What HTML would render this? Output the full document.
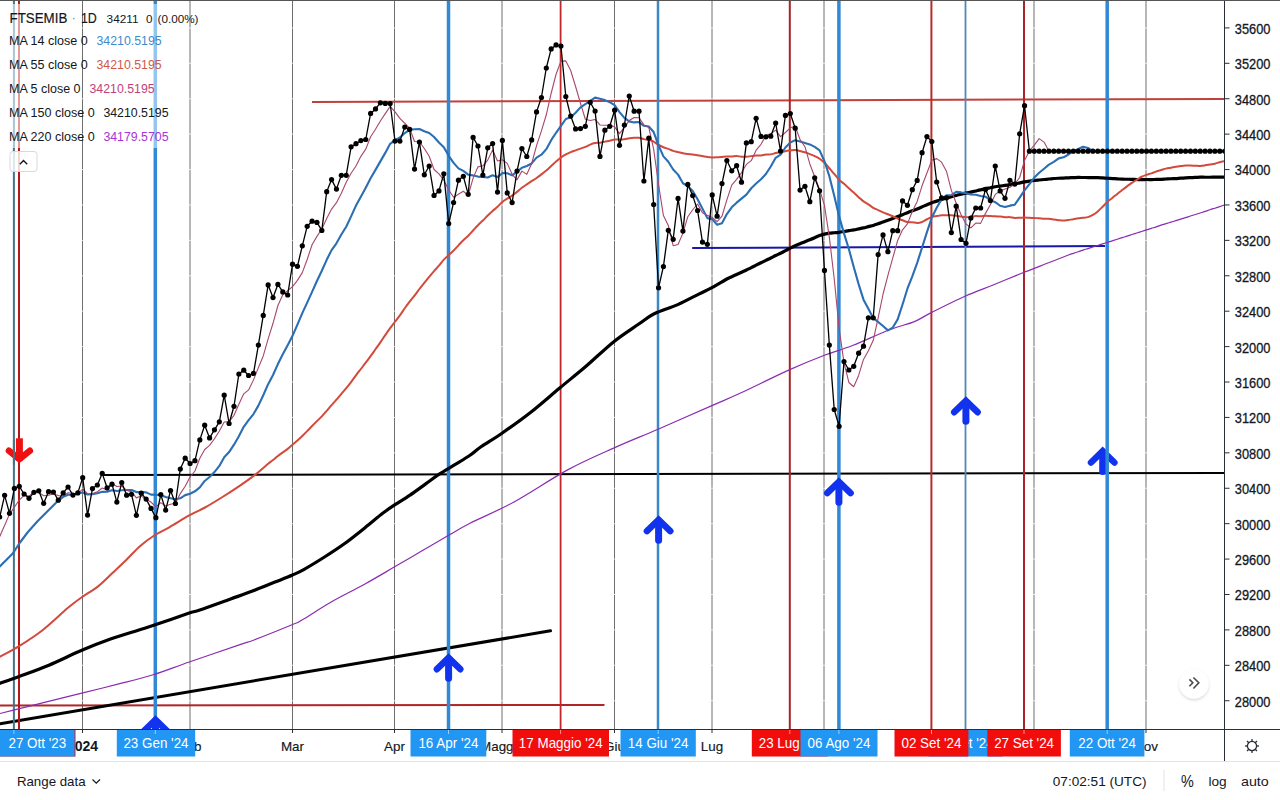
<!DOCTYPE html><html><head><meta charset="utf-8"><title>FTSEMIB chart</title><style>
html,body{margin:0;padding:0;background:#fff;width:1280px;height:800px;overflow:hidden;}
svg{display:block;font-family:"Liberation Sans", sans-serif;}
</style></head><body>
<svg width="1280" height="800" viewBox="0 0 1280 800">
<defs><clipPath id="pane"><rect x="0" y="0" width="1224" height="729"/></clipPath></defs>
<rect x="0" y="0" width="1280" height="800" fill="#fff"/>
<g clip-path="url(#pane)">
<line x1="82.5" y1="0" x2="82.5" y2="729" stroke="#6e6e6e" stroke-width="1"/>
<line x1="292.5" y1="0" x2="292.5" y2="729" stroke="#6e6e6e" stroke-width="1"/>
<line x1="394.5" y1="0" x2="394.5" y2="729" stroke="#6e6e6e" stroke-width="1"/>
<line x1="614.5" y1="0" x2="614.5" y2="729" stroke="#6e6e6e" stroke-width="1"/>
<line x1="190" y1="0" x2="190" y2="729" stroke="#6e6e6e" stroke-width="1"/>
<line x1="502" y1="0" x2="502" y2="729" stroke="#6e6e6e" stroke-width="1"/>
<line x1="712" y1="0" x2="712" y2="729" stroke="#6e6e6e" stroke-width="1"/>
<line x1="824" y1="0" x2="824" y2="729" stroke="#6e6e6e" stroke-width="1"/>
<line x1="1034" y1="0" x2="1034" y2="729" stroke="#6e6e6e" stroke-width="1"/>
<line x1="1146" y1="0" x2="1146" y2="729" stroke="#6e6e6e" stroke-width="1"/>
<line x1="0" y1="27.9" x2="1224" y2="27.9" stroke="#fff" stroke-opacity="0.75" stroke-width="1"/>
<line x1="0" y1="63.31" x2="1224" y2="63.31" stroke="#fff" stroke-opacity="0.75" stroke-width="1"/>
<line x1="0" y1="98.72" x2="1224" y2="98.72" stroke="#fff" stroke-opacity="0.75" stroke-width="1"/>
<line x1="0" y1="134.14" x2="1224" y2="134.14" stroke="#fff" stroke-opacity="0.75" stroke-width="1"/>
<line x1="0" y1="169.55" x2="1224" y2="169.55" stroke="#fff" stroke-opacity="0.75" stroke-width="1"/>
<line x1="0" y1="204.96" x2="1224" y2="204.96" stroke="#fff" stroke-opacity="0.75" stroke-width="1"/>
<line x1="0" y1="240.37" x2="1224" y2="240.37" stroke="#fff" stroke-opacity="0.75" stroke-width="1"/>
<line x1="0" y1="275.78" x2="1224" y2="275.78" stroke="#fff" stroke-opacity="0.75" stroke-width="1"/>
<line x1="0" y1="311.2" x2="1224" y2="311.2" stroke="#fff" stroke-opacity="0.75" stroke-width="1"/>
<line x1="0" y1="346.61" x2="1224" y2="346.61" stroke="#fff" stroke-opacity="0.75" stroke-width="1"/>
<line x1="0" y1="382.02" x2="1224" y2="382.02" stroke="#fff" stroke-opacity="0.75" stroke-width="1"/>
<line x1="0" y1="417.43" x2="1224" y2="417.43" stroke="#fff" stroke-opacity="0.75" stroke-width="1"/>
<line x1="0" y1="452.84" x2="1224" y2="452.84" stroke="#fff" stroke-opacity="0.75" stroke-width="1"/>
<line x1="0" y1="488.26" x2="1224" y2="488.26" stroke="#fff" stroke-opacity="0.75" stroke-width="1"/>
<line x1="0" y1="523.67" x2="1224" y2="523.67" stroke="#fff" stroke-opacity="0.75" stroke-width="1"/>
<line x1="0" y1="559.08" x2="1224" y2="559.08" stroke="#fff" stroke-opacity="0.75" stroke-width="1"/>
<line x1="0" y1="594.49" x2="1224" y2="594.49" stroke="#fff" stroke-opacity="0.75" stroke-width="1"/>
<line x1="0" y1="629.9" x2="1224" y2="629.9" stroke="#fff" stroke-opacity="0.75" stroke-width="1"/>
<line x1="0" y1="665.32" x2="1224" y2="665.32" stroke="#fff" stroke-opacity="0.75" stroke-width="1"/>
<line x1="0" y1="700.73" x2="1224" y2="700.73" stroke="#fff" stroke-opacity="0.75" stroke-width="1"/>
<line x1="312" y1="101.9" x2="1224" y2="98.9" stroke="#c0413b" stroke-width="2"/>
<line x1="102" y1="475.1" x2="1224" y2="472.9" stroke="#000" stroke-width="2"/>
<line x1="692.2" y1="248" x2="1105" y2="246" stroke="#1717a8" stroke-width="2"/>
<line x1="0" y1="705.6" x2="604.5" y2="704.9" stroke="#b02525" stroke-width="2"/>
<line x1="0" y1="723.7" x2="550.5" y2="630.8" stroke="#000" stroke-width="3" stroke-linecap="round"/>
<g stroke="#1133ee" fill="none" stroke-linecap="round" stroke-linejoin="miter"><polyline points="1091,462.5 1102.7,451.1 1114.4,462.5" stroke-width="6.5"/><line x1="1102.7" y1="452.6" x2="1102.7" y2="471.6" stroke-width="7"/></g>
<line x1="155.3" y1="148" x2="155.3" y2="729" stroke="#3189d6" stroke-width="3.5"/>
<line x1="448.5" y1="0" x2="448.5" y2="729" stroke="#3189d6" stroke-width="3.5"/>
<line x1="560.6" y1="0" x2="560.6" y2="729" stroke="#c0282c" stroke-width="1.8"/>
<line x1="658" y1="0" x2="658" y2="729" stroke="#3a88c8" stroke-width="2.5"/>
<line x1="789.8" y1="0" x2="789.8" y2="729" stroke="#a82428" stroke-width="2"/>
<line x1="838.9" y1="0" x2="838.9" y2="729" stroke="#3189d6" stroke-width="3.5"/>
<line x1="931.4" y1="0" x2="931.4" y2="729" stroke="#b82c2a" stroke-width="2"/>
<line x1="965.5" y1="0" x2="965.5" y2="729" stroke="#5089b8" stroke-width="1.8"/>
<line x1="1024" y1="0" x2="1024" y2="729" stroke="#a82428" stroke-width="2"/>
<line x1="1107.2" y1="0" x2="1107.2" y2="729" stroke="#3189d6" stroke-width="3.5"/>
<line x1="155.3" y1="0" x2="155.3" y2="4" stroke="#3189d6" stroke-width="3.5"/>
<line x1="155.3" y1="4" x2="155.3" y2="148" stroke="#93c5ef" stroke-width="3.5"/>
<line x1="13.9" y1="0" x2="13.9" y2="4" stroke="#427585" stroke-width="2"/>
<line x1="13.9" y1="4" x2="13.9" y2="148" stroke="#a9c6d2" stroke-width="2"/>
<line x1="13.9" y1="148" x2="13.9" y2="151" stroke="#427585" stroke-width="2"/>
<line x1="13.9" y1="151" x2="13.9" y2="172" stroke="#dce8ee" stroke-width="2"/>
<line x1="13.9" y1="172" x2="13.9" y2="729" stroke="#427585" stroke-width="2"/>
<line x1="19" y1="0" x2="19" y2="4" stroke="#b81616" stroke-width="2"/>
<line x1="19" y1="4" x2="19" y2="148" stroke="#e29a9a" stroke-width="2"/>
<line x1="19" y1="148" x2="19" y2="151" stroke="#b81616" stroke-width="2"/>
<line x1="19" y1="151" x2="19" y2="172" stroke="#f2d6d2" stroke-width="2"/>
<line x1="19" y1="172" x2="19" y2="729" stroke="#b81616" stroke-width="2"/>
<g stroke="#1133ee" fill="none" stroke-linecap="round" stroke-linejoin="miter"><polyline points="143.8,731.1 155.5,719.7 167.2,731.1" stroke-width="6.5"/><line x1="155.5" y1="721.2" x2="155.5" y2="740.2" stroke-width="7"/></g>
<g stroke="#1133ee" fill="none" stroke-linecap="round" stroke-linejoin="miter"><polyline points="436.9,669.2 448.6,657.8 460.3,669.2" stroke-width="6.5"/><line x1="448.6" y1="659.3" x2="448.6" y2="678.3" stroke-width="7"/></g>
<g stroke="#1133ee" fill="none" stroke-linecap="round" stroke-linejoin="miter"><polyline points="646.9,531.1 658.6,519.7 670.3,531.1" stroke-width="6.5"/><line x1="658.6" y1="521.2" x2="658.6" y2="540.2" stroke-width="7"/></g>
<g stroke="#1133ee" fill="none" stroke-linecap="round" stroke-linejoin="miter"><polyline points="827.2,493.1 838.9,481.7 850.6,493.1" stroke-width="6.5"/><line x1="838.9" y1="483.2" x2="838.9" y2="502.2" stroke-width="7"/></g>
<g stroke="#1133ee" fill="none" stroke-linecap="round" stroke-linejoin="miter"><polyline points="954.2,412.2 965.9,400.8 977.6,412.2" stroke-width="6.5"/><line x1="965.9" y1="402.3" x2="965.9" y2="421.3" stroke-width="7"/></g>
<g stroke="#f01010" fill="none" stroke-linecap="round" stroke-linejoin="miter"><polyline points="8.95,450.8 19.4,459.2 29.85,450.8" stroke-width="6.5"/><line x1="19.4" y1="457.3" x2="19.4" y2="441.8" stroke-width="7" stroke-linecap="square"/></g>
<line x1="13.9" y1="440" x2="13.9" y2="465" stroke="#427585" stroke-width="2"/>
<path d="M-2 714 C-1.67 713.92 -3.88 714.47 0 713.5 C3.88 712.53 14.22 709.97 21.3 708.2 C28.38 706.43 32.42 705.42 42.5 702.9 C52.58 700.38 69.4 696.18 81.8 693.1 C94.2 690.02 105.02 687.45 116.9 684.4 C128.78 681.35 141.05 678.53 153.1 674.8 C165.15 671.07 174.72 667.03 189.2 662 C203.68 656.97 229.2 648.27 240 644.6 C250.8 640.93 245.33 643.3 254 640 C262.67 636.7 284 628.13 292 624.8 C300 621.47 295.47 623.8 302 620 C308.53 616.2 320.7 608 331.2 602 C341.7 596 354.5 589.82 365 584 C375.5 578.18 384.83 572.55 394.2 567.1 C403.57 561.65 412.2 556.55 421.2 551.3 C430.2 546.05 440.07 540.28 448.2 535.6 C456.33 530.92 459.03 528.8 470 523.2 C480.97 517.6 497.73 510.88 514 502 C530.27 493.12 550.8 478.97 567.6 469.9 C584.4 460.83 599.72 454.38 614.8 447.6 C629.88 440.82 641.92 436.2 658.1 429.2 C674.28 422.2 698.25 411.58 711.9 405.6 C725.55 399.62 727.12 399.25 740 393.3 C752.88 387.35 775.13 376.23 789.2 369.9 C803.27 363.57 813.85 359.37 824.4 355.3 C834.95 351.23 841.73 349.72 852.5 345.5 C863.27 341.28 878.68 333.98 889 330 C899.32 326.02 907.37 324.5 914.4 321.6 C921.43 318.7 922.77 316.83 931.2 312.6 C939.63 308.37 954.68 300.8 965 296.2 C975.32 291.6 983.27 288.98 993.1 285 C1002.93 281.02 1014.63 276.05 1024 272.3 C1033.37 268.55 1041.89 265.39 1049.3 262.5 C1056.71 259.61 1064.45 256.5 1068.46 254.97 C1072.47 253.44 1071.71 253.85 1073.34 253.31 C1074.97 252.77 1076.59 252.28 1078.22 251.74 C1079.85 251.21 1081.47 250.63 1083.1 250.1 C1084.73 249.57 1086.35 249.08 1087.98 248.57 C1089.61 248.06 1091.23 247.56 1092.86 247.04 C1094.49 246.53 1096.11 246.01 1097.74 245.48 C1099.37 244.96 1100.99 244.43 1102.62 243.91 C1104.25 243.39 1105.87 242.87 1107.5 242.36 C1109.13 241.84 1110.75 241.34 1112.38 240.81 C1114.01 240.29 1115.63 239.74 1117.26 239.21 C1118.89 238.69 1120.51 238.18 1122.14 237.66 C1123.77 237.15 1125.39 236.64 1127.02 236.12 C1128.65 235.59 1130.27 235.05 1131.9 234.53 C1133.53 234.01 1135.15 233.49 1136.78 232.98 C1138.41 232.46 1140.03 231.96 1141.66 231.45 C1143.29 230.93 1144.91 230.41 1146.54 229.89 C1148.17 229.37 1149.79 228.84 1151.42 228.33 C1153.05 227.83 1154.67 227.37 1156.3 226.85 C1157.93 226.33 1159.55 225.73 1161.18 225.19 C1162.81 224.66 1164.43 224.17 1166.06 223.66 C1167.69 223.15 1169.31 222.64 1170.94 222.14 C1172.57 221.65 1174.19 221.18 1175.82 220.68 C1177.45 220.18 1179.07 219.66 1180.7 219.15 C1182.33 218.64 1183.95 218.15 1185.58 217.64 C1187.21 217.12 1188.83 216.56 1190.46 216.04 C1192.09 215.52 1193.71 215.05 1195.34 214.53 C1196.97 214.02 1198.59 213.49 1200.22 212.97 C1201.85 212.45 1203.47 211.95 1205.1 211.41 C1206.73 210.88 1208.35 210.29 1209.98 209.76 C1211.61 209.22 1213.23 208.72 1214.86 208.2 C1216.49 207.68 1218.11 207.16 1219.74 206.62 C1221.37 206.09 1223.81 205.27 1224.62 205" fill="none" stroke="#8a2cb0" stroke-width="1.2"/>
<path d="M-2 684 C-1.67 683.88 -3.52 684.55 0 683.3 C3.52 682.05 10.95 679.52 19.1 676.5 C27.25 673.48 38.45 669.57 48.9 665.2 C59.35 660.83 71.53 654.65 81.8 650.3 C92.07 645.95 101.1 642.45 110.5 639.1 C119.9 635.75 130.75 632.58 138.2 630.2 C145.65 627.82 146.7 627.65 155.2 624.8 C163.7 621.95 181.77 615.57 189.2 613.1 C196.63 610.63 193 612.32 199.8 610 C206.6 607.68 221.22 602.35 230 599.2 C238.78 596.05 245 593.95 252.5 591.1 C260 588.25 268.33 584.78 275 582.1 C281.67 579.42 287.63 577.13 292.5 575 C297.37 572.87 298.87 572.3 304.2 569.3 C309.53 566.3 317.75 561.3 324.5 557 C331.25 552.7 337.95 548.38 344.7 543.5 C351.45 538.62 358.62 532.77 365 527.7 C371.38 522.63 378.13 516.85 383 513.1 C387.87 509.35 389.7 508.2 394.2 505.2 C398.7 502.2 404.75 498.65 410 495.1 C415.25 491.55 420.83 487.38 425.7 483.9 C430.57 480.42 434.33 477.4 439.2 474.2 C444.07 471 449.77 467.85 454.9 464.7 C460.03 461.55 465.65 458.28 470 455.3 C474.35 452.32 475.67 450.48 481 446.8 C486.33 443.12 493.7 438.97 502 433.2 C510.3 427.43 521.18 419.73 530.8 412.2 C540.42 404.67 550.5 395.65 559.7 388 C568.9 380.35 577.03 373.98 586 366.3 C594.97 358.62 604.77 348.9 613.5 341.9 C622.23 334.9 631.62 328.98 638.4 324.3 C645.18 319.62 647.63 317.08 654.2 313.8 C660.77 310.52 670.37 307.88 677.8 304.6 C685.23 301.32 693.12 296.93 698.8 294.1 C704.48 291.27 707.22 290.12 711.9 287.6 C716.58 285.08 723.55 280.8 726.86 278.98 C730.17 277.16 730.11 277.43 731.74 276.68 C733.37 275.93 734.99 275.21 736.62 274.48 C738.25 273.74 739.87 273.02 741.5 272.27 C743.13 271.52 744.75 270.73 746.38 269.97 C748.01 269.2 749.63 268.47 751.26 267.67 C752.89 266.87 754.51 265.99 756.14 265.17 C757.77 264.35 759.39 263.55 761.02 262.75 C762.65 261.96 764.27 261.17 765.9 260.38 C767.53 259.59 769.15 258.84 770.78 258.02 C772.41 257.2 774.03 256.28 775.66 255.48 C777.29 254.68 778.91 254.01 780.54 253.21 C782.17 252.42 783.79 251.55 785.42 250.7 C787.05 249.85 788.67 248.96 790.3 248.12 C791.93 247.29 793.55 246.43 795.18 245.69 C796.81 244.96 798.43 244.39 800.06 243.71 C801.69 243.04 803.31 242.32 804.94 241.66 C806.57 240.99 808.19 240.37 809.82 239.71 C811.45 239.06 813.07 238.41 814.7 237.71 C816.33 237.02 817.95 236.16 819.58 235.55 C821.21 234.95 822.83 234.5 824.46 234.1 C826.09 233.7 827.71 233.39 829.34 233.17 C830.97 232.94 832.59 232.88 834.22 232.74 C835.85 232.6 837.47 232.53 839.1 232.33 C840.73 232.12 842.35 231.79 843.98 231.51 C845.61 231.23 847.23 230.91 848.86 230.63 C850.49 230.35 852.11 230.14 853.74 229.86 C855.37 229.57 856.99 229.23 858.62 228.91 C860.25 228.59 861.87 228.31 863.5 227.92 C865.13 227.54 866.75 227.02 868.38 226.61 C870.01 226.19 871.63 225.9 873.26 225.44 C874.89 224.97 876.51 224.38 878.14 223.81 C879.77 223.23 881.39 222.58 883.02 221.98 C884.65 221.38 886.27 220.8 887.9 220.21 C889.53 219.62 891.15 219.05 892.78 218.45 C894.41 217.85 896.03 217.22 897.66 216.59 C899.29 215.96 900.91 215.31 902.54 214.66 C904.17 214 905.79 213.31 907.42 212.67 C909.05 212.03 910.67 211.42 912.3 210.81 C913.93 210.19 915.55 209.61 917.18 208.95 C918.81 208.3 920.43 207.59 922.06 206.88 C923.69 206.18 925.31 205.41 926.94 204.72 C928.57 204.03 930.19 203.33 931.82 202.73 C933.45 202.13 935.07 201.65 936.7 201.11 C938.33 200.57 939.95 200.03 941.58 199.51 C943.21 198.99 944.83 198.43 946.46 197.96 C948.09 197.5 949.71 197.12 951.34 196.7 C952.97 196.28 954.59 195.86 956.22 195.44 C957.85 195.03 959.47 194.6 961.1 194.22 C962.73 193.83 964.35 193.48 965.98 193.13 C967.61 192.77 969.23 192.44 970.86 192.09 C972.49 191.74 974.11 191.37 975.74 191.01 C977.37 190.64 978.99 190.28 980.62 189.89 C982.25 189.5 983.87 189.03 985.5 188.66 C987.13 188.3 988.75 188.03 990.38 187.7 C992.01 187.37 993.63 186.98 995.26 186.71 C996.89 186.44 998.51 186.29 1000.14 186.08 C1001.77 185.86 1003.39 185.64 1005.02 185.42 C1006.65 185.19 1008.27 184.96 1009.9 184.72 C1011.53 184.49 1013.15 184.3 1014.78 184 C1016.41 183.71 1018.03 183.29 1019.66 182.93 C1021.29 182.57 1022.91 182.18 1024.54 181.87 C1026.17 181.57 1027.79 181.34 1029.42 181.11 C1031.05 180.87 1032.67 180.66 1034.3 180.48 C1035.93 180.29 1037.55 180.14 1039.18 179.97 C1040.81 179.81 1042.43 179.66 1044.06 179.51 C1045.69 179.35 1047.31 179.2 1048.94 179.03 C1050.57 178.87 1052.19 178.64 1053.82 178.51 C1055.45 178.37 1057.07 178.31 1058.7 178.24 C1060.33 178.16 1061.95 178.12 1063.58 178.05 C1065.21 177.97 1066.83 177.86 1068.46 177.79 C1070.09 177.72 1071.71 177.69 1073.34 177.63 C1074.97 177.58 1076.59 177.49 1078.22 177.47 C1079.85 177.45 1081.47 177.49 1083.1 177.5 C1084.73 177.51 1086.35 177.53 1087.98 177.55 C1089.61 177.57 1091.23 177.6 1092.86 177.62 C1094.49 177.65 1096.11 177.64 1097.74 177.7 C1099.37 177.75 1100.99 177.86 1102.62 177.95 C1104.25 178.04 1105.87 178.13 1107.5 178.23 C1109.13 178.33 1110.75 178.45 1112.38 178.56 C1114.01 178.66 1115.63 178.77 1117.26 178.88 C1118.89 178.98 1120.51 179.13 1122.14 179.19 C1123.77 179.26 1125.39 179.24 1127.02 179.26 C1128.65 179.28 1130.27 179.29 1131.9 179.33 C1133.53 179.37 1135.15 179.44 1136.78 179.49 C1138.41 179.54 1140.03 179.63 1141.66 179.63 C1143.29 179.64 1144.91 179.52 1146.54 179.51 C1148.17 179.5 1149.79 179.59 1151.42 179.58 C1153.05 179.56 1154.67 179.46 1156.3 179.42 C1157.93 179.38 1159.55 179.38 1161.18 179.32 C1162.81 179.25 1164.43 179.12 1166.06 179.02 C1167.69 178.93 1169.31 178.83 1170.94 178.76 C1172.57 178.69 1174.19 178.71 1175.82 178.61 C1177.45 178.5 1179.07 178.26 1180.7 178.13 C1182.33 177.99 1183.95 177.87 1185.58 177.78 C1187.21 177.7 1188.83 177.65 1190.46 177.59 C1192.09 177.53 1193.71 177.5 1195.34 177.42 C1196.97 177.35 1198.59 177.17 1200.22 177.14 C1201.85 177.1 1203.47 177.21 1205.1 177.23 C1206.73 177.25 1208.35 177.28 1209.98 177.26 C1211.61 177.24 1213.23 177.13 1214.86 177.1 C1216.49 177.08 1218.11 177.11 1219.74 177.13 C1221.37 177.14 1223.81 177.17 1224.62 177.18" fill="none" stroke="#000" stroke-width="3.2" stroke-linejoin="round"/>
<path d="M-2 657.5 C-1.67 657.37 -3.52 658.6 0 656.7 C3.52 654.8 12.02 650.52 19.1 646.1 C26.18 641.68 34.35 636.58 42.5 630.2 C50.65 623.82 61.45 613.3 68 607.8 C74.55 602.3 76.83 600.73 81.8 597.2 C86.77 593.67 92.65 590.67 97.8 586.6 C102.95 582.53 107.97 577.23 112.7 572.8 C117.43 568.37 121.62 564.47 126.2 560 C130.78 555.53 135.53 550.08 140.2 546 C144.87 541.92 149.23 538.7 154.2 535.5 C159.17 532.3 164.17 530.15 170 526.8 C175.83 523.45 183.37 518.62 189.2 515.4 C195.03 512.18 199.45 510.57 205 507.5 C210.55 504.43 216.67 500.65 222.5 497 C228.33 493.35 234.75 489.17 240 485.6 C245.25 482.03 250.12 478.55 254 475.6 C257.88 472.65 260.9 469.88 263.26 467.89 C265.62 465.9 266.51 464.97 268.14 463.67 C269.77 462.37 271.39 461.37 273.02 460.07 C274.65 458.78 276.27 457.2 277.9 455.91 C279.53 454.62 281.15 453.52 282.78 452.34 C284.41 451.16 286.03 450.14 287.66 448.86 C289.29 447.59 290.91 446.08 292.54 444.68 C294.17 443.28 295.79 441.92 297.42 440.47 C299.05 439.02 300.67 437.53 302.3 435.98 C303.93 434.44 305.55 432.83 307.18 431.17 C308.81 429.52 310.43 427.72 312.06 426.05 C313.69 424.37 315.31 422.76 316.94 421.15 C318.57 419.54 320.19 418.12 321.82 416.39 C323.45 414.67 325.07 412.67 326.7 410.78 C328.33 408.9 329.95 406.94 331.58 405.09 C333.21 403.24 334.83 401.54 336.46 399.67 C338.09 397.8 339.71 395.79 341.34 393.86 C342.97 391.92 344.59 390.05 346.22 388.08 C347.85 386.12 349.47 384.19 351.1 382.07 C352.73 379.94 354.35 377.49 355.98 375.31 C357.61 373.13 359.23 371.09 360.86 368.99 C362.49 366.88 364.11 364.84 365.74 362.7 C367.37 360.57 368.99 358.4 370.62 356.16 C372.25 353.92 373.87 351.57 375.5 349.27 C377.13 346.97 378.75 344.7 380.38 342.33 C382.01 339.97 383.63 337.44 385.26 335.09 C386.89 332.73 388.51 330.42 390.14 328.19 C391.77 325.97 393.39 323.9 395.02 321.76 C396.65 319.61 398.27 317.58 399.9 315.33 C401.53 313.09 403.15 310.56 404.78 308.28 C406.41 306 408.03 303.76 409.66 301.66 C411.29 299.56 412.91 297.77 414.54 295.66 C416.17 293.55 417.79 291.15 419.42 289 C421.05 286.85 422.67 284.8 424.3 282.77 C425.93 280.73 427.55 278.74 429.18 276.79 C430.81 274.84 432.43 272.93 434.06 271.07 C435.69 269.21 437.31 267.53 438.94 265.62 C440.57 263.71 442.19 261.37 443.82 259.63 C445.45 257.88 447.07 256.68 448.7 255.16 C450.33 253.64 451.95 252.15 453.58 250.51 C455.21 248.88 456.83 247.08 458.46 245.36 C460.09 243.64 461.71 241.8 463.34 240.19 C464.97 238.59 466.59 237.34 468.22 235.73 C469.85 234.11 471.47 232.25 473.1 230.49 C474.73 228.74 476.35 226.84 477.98 225.19 C479.61 223.53 481.23 222.16 482.86 220.56 C484.49 218.95 486.11 217.17 487.74 215.57 C489.37 213.98 490.99 212.46 492.62 211 C494.25 209.54 495.87 208.3 497.5 206.79 C499.13 205.29 500.75 203.31 502.38 201.96 C504.01 200.6 505.63 199.72 507.26 198.67 C508.89 197.61 510.51 196.75 512.14 195.62 C513.77 194.49 515.39 193.2 517.02 191.9 C518.65 190.6 520.27 189.07 521.9 187.81 C523.53 186.56 525.15 185.49 526.78 184.39 C528.41 183.28 530.03 182.25 531.66 181.19 C533.29 180.14 534.91 179.18 536.54 178.05 C538.17 176.92 539.79 175.67 541.42 174.41 C543.05 173.15 544.67 171.87 546.3 170.48 C547.93 169.08 549.55 167.55 551.18 166.06 C552.81 164.56 554.43 162.93 556.06 161.51 C557.69 160.09 559.31 158.72 560.94 157.55 C562.57 156.37 564.19 155.37 565.82 154.46 C567.45 153.55 569.07 152.79 570.7 152.1 C572.33 151.41 573.95 150.9 575.58 150.33 C577.21 149.75 578.83 149.22 580.46 148.65 C582.09 148.07 583.71 147.58 585.34 146.9 C586.97 146.22 588.59 145.2 590.22 144.57 C591.85 143.94 593.47 143.42 595.1 143.1 C596.73 142.79 598.35 142.93 599.98 142.68 C601.61 142.43 603.23 141.94 604.86 141.61 C606.49 141.28 608.11 141.07 609.74 140.72 C611.37 140.37 612.99 139.74 614.62 139.54 C616.25 139.33 617.87 139.57 619.5 139.51 C621.13 139.45 622.75 139.36 624.38 139.17 C626.01 138.98 627.63 138.58 629.26 138.36 C630.89 138.14 632.51 137.94 634.14 137.84 C635.77 137.75 637.39 137.59 639.02 137.8 C640.65 138.02 642.27 138.79 643.9 139.11 C645.53 139.44 647.15 139.34 648.78 139.76 C650.41 140.17 652.03 140.73 653.66 141.59 C655.29 142.46 656.91 144.01 658.54 144.95 C660.17 145.88 661.79 146.58 663.42 147.23 C665.05 147.88 666.67 148.24 668.3 148.85 C669.93 149.46 671.55 150.34 673.18 150.89 C674.81 151.44 676.43 151.74 678.06 152.14 C679.69 152.54 681.31 152.95 682.94 153.27 C684.57 153.59 686.19 153.85 687.82 154.04 C689.45 154.23 691.07 154.22 692.7 154.42 C694.33 154.61 695.95 154.95 697.58 155.23 C699.21 155.5 700.83 155.77 702.46 156.07 C704.09 156.38 705.71 156.82 707.34 157.05 C708.97 157.27 710.59 157.39 712.22 157.43 C713.85 157.47 715.47 157.37 717.1 157.29 C718.73 157.21 720.35 157.07 721.98 156.95 C723.61 156.83 725.23 156.67 726.86 156.59 C728.49 156.52 730.11 156.6 731.74 156.49 C733.37 156.39 734.99 155.92 736.62 155.97 C738.25 156.02 739.87 156.66 741.5 156.79 C743.13 156.91 744.75 156.84 746.38 156.73 C748.01 156.62 749.63 156.31 751.26 156.12 C752.89 155.93 754.51 155.7 756.14 155.59 C757.77 155.48 759.39 155.65 761.02 155.46 C762.65 155.27 764.27 154.63 765.9 154.45 C767.53 154.27 769.15 154.6 770.78 154.37 C772.41 154.15 774.03 153.47 775.66 153.1 C777.29 152.74 778.91 152.49 780.54 152.17 C782.17 151.84 783.79 151.43 785.42 151.15 C787.05 150.88 788.67 150.71 790.3 150.52 C791.93 150.32 793.55 149.94 795.18 150 C796.81 150.07 798.43 150.54 800.06 150.91 C801.69 151.29 803.31 151.73 804.94 152.27 C806.57 152.81 808.19 153.51 809.82 154.16 C811.45 154.81 813.07 155.4 814.7 156.16 C816.33 156.92 817.95 157.62 819.58 158.74 C821.21 159.85 822.83 161.25 824.46 162.84 C826.09 164.43 827.71 166.42 829.34 168.27 C830.97 170.13 832.59 172.08 834.22 173.97 C835.85 175.85 837.47 177.96 839.1 179.61 C840.73 181.25 842.35 182.4 843.98 183.83 C845.61 185.27 847.23 186.76 848.86 188.22 C850.49 189.68 852.11 191.1 853.74 192.59 C855.37 194.07 856.99 195.68 858.62 197.15 C860.25 198.62 861.87 200.22 863.5 201.42 C865.13 202.63 866.75 203.3 868.38 204.36 C870.01 205.42 871.63 206.81 873.26 207.77 C874.89 208.73 876.51 209.34 878.14 210.1 C879.77 210.87 881.39 211.67 883.02 212.37 C884.65 213.07 886.27 213.66 887.9 214.3 C889.53 214.95 891.15 215.5 892.78 216.23 C894.41 216.95 896.03 217.99 897.66 218.67 C899.29 219.35 900.91 219.75 902.54 220.31 C904.17 220.86 905.79 221.7 907.42 222.02 C909.05 222.33 910.67 222.02 912.3 222.17 C913.93 222.33 915.55 222.97 917.18 222.94 C918.81 222.91 920.43 222.62 922.06 222 C923.69 221.39 925.31 220.09 926.94 219.25 C928.57 218.42 930.19 217.51 931.82 216.98 C933.45 216.45 935.07 216.37 936.7 216.1 C938.33 215.83 939.95 215.48 941.58 215.35 C943.21 215.22 944.83 215.34 946.46 215.34 C948.09 215.34 949.71 215.29 951.34 215.37 C952.97 215.44 954.59 215.56 956.22 215.76 C957.85 215.96 959.47 216.33 961.1 216.56 C962.73 216.79 964.35 217.13 965.98 217.16 C967.61 217.18 969.23 216.9 970.86 216.72 C972.49 216.54 974.11 216.13 975.74 216.06 C977.37 215.99 978.99 216.34 980.62 216.3 C982.25 216.26 983.87 215.84 985.5 215.81 C987.13 215.78 988.75 216.05 990.38 216.12 C992.01 216.19 993.63 216.14 995.26 216.22 C996.89 216.3 998.51 216.43 1000.14 216.59 C1001.77 216.75 1003.39 217.09 1005.02 217.18 C1006.65 217.27 1008.27 217.03 1009.9 217.15 C1011.53 217.26 1013.15 217.79 1014.78 217.89 C1016.41 218 1018.03 217.81 1019.66 217.75 C1021.29 217.69 1022.91 217.52 1024.54 217.52 C1026.17 217.53 1027.79 217.7 1029.42 217.79 C1031.05 217.88 1032.67 217.96 1034.3 218.05 C1035.93 218.14 1037.55 218.19 1039.18 218.33 C1040.81 218.46 1042.43 218.75 1044.06 218.84 C1045.69 218.92 1047.31 218.73 1048.94 218.84 C1050.57 218.95 1052.19 219.27 1053.82 219.49 C1055.45 219.71 1057.07 219.99 1058.7 220.18 C1060.33 220.36 1061.95 220.64 1063.58 220.59 C1065.21 220.55 1066.83 220.11 1068.46 219.89 C1070.09 219.66 1071.71 219.51 1073.34 219.25 C1074.97 218.99 1076.59 218.56 1078.22 218.33 C1079.85 218.1 1081.47 218.05 1083.1 217.85 C1084.73 217.65 1086.35 217.61 1087.98 217.13 C1089.61 216.65 1091.23 215.91 1092.86 214.96 C1094.49 214.01 1096.11 212.8 1097.74 211.43 C1099.37 210.06 1100.99 208.35 1102.62 206.74 C1104.25 205.12 1105.87 203.21 1107.5 201.74 C1109.13 200.27 1110.75 199.21 1112.38 197.91 C1114.01 196.61 1115.63 195.25 1117.26 193.93 C1118.89 192.62 1120.51 191.29 1122.14 190.02 C1123.77 188.76 1125.39 187.55 1127.02 186.35 C1128.65 185.15 1130.27 183.9 1131.9 182.81 C1133.53 181.71 1135.15 180.79 1136.78 179.78 C1138.41 178.77 1140.03 177.57 1141.66 176.75 C1143.29 175.93 1144.91 175.43 1146.54 174.87 C1148.17 174.3 1149.79 173.9 1151.42 173.35 C1153.05 172.79 1154.67 172.06 1156.3 171.52 C1157.93 170.97 1159.55 170.55 1161.18 170.07 C1162.81 169.59 1164.43 169.02 1166.06 168.63 C1167.69 168.24 1169.31 168.04 1170.94 167.72 C1172.57 167.41 1174.19 167.02 1175.82 166.74 C1177.45 166.46 1179.07 166.25 1180.7 166.04 C1182.33 165.83 1183.95 165.6 1185.58 165.51 C1187.21 165.42 1188.83 165.44 1190.46 165.48 C1192.09 165.52 1193.71 165.67 1195.34 165.75 C1196.97 165.82 1198.59 165.99 1200.22 165.92 C1201.85 165.86 1203.47 165.6 1205.1 165.36 C1206.73 165.13 1208.35 164.8 1209.98 164.51 C1211.61 164.23 1213.23 164.06 1214.86 163.67 C1216.49 163.28 1218.11 162.6 1219.74 162.19 C1221.37 161.77 1223.81 161.35 1224.62 161.19" fill="none" stroke="#d24a3c" stroke-width="2" stroke-linejoin="round"/>
<polyline points="-2,568.5 0,566.3 6.25,560 12.5,553.8 20,542.5 27.5,532.5 37.5,521.3 47.5,511.3 57.5,501.3 63.18,496.84 68.06,494.7 72.94,494.69 77.82,493.23 82.7,492.46 87.58,494.52 92.46,494.14 97.34,493.19 102.22,491.84 107.1,491.62 111.98,490.26 116.86,491 121.74,490.32 126.62,489.96 131.5,490.06 136.38,492.09 141.26,491.95 146.14,492.39 151.02,494.59 155.9,494.77 160.78,495.2 165.66,496.99 170.54,498.22 175.42,499.34 180.3,498.26 185.18,495.13 190.06,493.77 194.94,491.31 199.82,487.42 204.7,480.99 209.58,477.04 214.46,472.09 219.34,465.9 224.22,457.15 229.1,452.07 233.98,444.66 238.86,436.33 243.74,426.81 248.62,420.12 253.5,414.06 258.38,405.61 263.26,395.23 268.14,384.16 273.02,375.04 277.9,364.08 282.78,354.23 287.66,345.17 292.54,335.81 297.42,324.59 302.3,313.12 307.18,302.57 312.06,291.93 316.94,280.99 321.82,270.78 326.7,259.82 331.58,250.12 336.46,243.28 341.34,234.54 346.22,226.75 351.1,216.39 355.98,205.58 360.86,196.75 365.74,187.69 370.62,178.24 375.5,169.85 380.38,161.39 385.26,152.89 390.14,143.83 395.02,140.21 399.9,137.46 404.78,133.04 409.66,129.76 414.54,129.31 419.42,128.98 424.3,131.2 429.18,133.01 434.06,137.01 438.94,142.54 443.82,147.18 448.7,155.81 453.58,162.89 458.46,168.36 463.34,170.88 468.22,174.68 473.1,175.41 477.98,176.6 482.86,177.03 487.74,177.44 492.62,175.21 497.5,177.07 502.38,173.14 507.26,173.29 512.14,175.34 517.02,171.59 521.9,167.74 526.78,166.05 531.66,163.45 536.54,157.56 541.42,154.71 546.3,149.14 551.18,140.13 556.06,132.78 560.94,125.81 565.82,118.99 570.7,117.25 575.58,112.68 580.46,107.39 585.34,104.19 590.22,100.89 595.1,97.64 599.98,98.82 604.86,100.13 609.74,102.19 614.62,105.2 619.5,112.09 624.38,117.81 629.26,121.37 634.14,122.42 639.02,122.07 643.9,125.79 648.78,126.47 653.66,132.06 658.54,145.31 663.42,156.41 668.3,161.69 673.18,169.48 678.06,174.63 682.94,183.26 687.82,186.06 692.7,191.1 697.58,199.28 702.46,208.63 707.34,218.14 712.22,219.13 717.1,224.71 721.98,223.21 726.86,214.12 731.74,207.29 736.62,202.67 741.5,198.59 746.38,194.63 751.26,188.24 756.14,183.52 761.02,179.29 765.9,174.03 770.78,166.46 775.66,157.8 780.54,154.67 785.42,147.47 790.3,142.46 795.18,140.16 800.06,141.54 804.94,143.01 809.82,144.4 814.7,146.89 819.58,150.4 824.46,161.26 829.34,176.17 834.22,195.65 839.1,216.37 843.98,233.41 848.86,249.04 853.74,266.96 858.62,284.09 863.5,299.66 868.38,308.78 873.26,318.17 878.14,321.95 883.02,326.03 887.9,330.38 892.78,327.54 897.66,319.37 902.54,304.47 907.42,288.69 912.3,276.41 917.18,262.87 922.06,247.61 926.94,232.14 931.82,217.52 936.7,207.82 941.58,199.26 946.46,195.2 951.34,195.04 956.22,191.79 961.1,192.41 965.98,193.31 970.86,194.54 975.74,194.74 980.62,196.04 985.5,196.69 990.38,200.11 995.26,202.21 1000.14,205.74 1005.02,206.91 1009.9,205.65 1014.78,204.67 1019.66,197.61 1024.54,190.44 1029.42,184.13 1034.3,177.55 1039.18,172.77 1044.06,168.71 1048.94,164.66 1053.82,161.93 1058.7,158.4 1063.58,157.34 1068.46,154.5 1073.34,151.14 1078.22,149.06 1083.1,146.71 1087.98,147.95 1092.86,151.2 1097.74,151.2 1102.62,151.2 1107.5,151.2 1112.38,151.2 1117.26,151.2 1122.14,151.2 1127.02,151.2 1131.9,151.2 1136.78,151.2 1141.66,151.2 1146.54,151.2 1151.42,151.2 1156.3,151.2 1161.18,151.2 1166.06,151.2 1170.94,151.2 1175.82,151.2 1180.7,151.2 1185.58,151.2 1190.46,151.2 1195.34,151.2 1200.22,151.2 1205.1,151.2 1209.98,151.2 1214.86,151.2 1219.74,151.2 1224.62,151.2" fill="none" stroke="#2a6eb4" stroke-width="2.1" stroke-linejoin="round"/>
<polyline points="-2,540 0,536 9.4,514.4 19.26,500.06 24.14,495.46 29.02,496.06 33.9,491.86 38.78,492.34 43.66,495.74 48.54,495.28 53.42,494.02 58.3,495.6 63.18,496.02 68.06,492.76 72.94,493.44 77.82,493.62 82.7,489.12 87.58,493.56 92.46,493.88 97.34,491.86 102.22,487.96 107.1,489.98 111.98,483.8 116.86,486.5 121.74,486 126.62,490.36 131.5,491.66 136.38,497.88 141.26,496.1 146.14,499.42 151.02,502.06 155.9,506.74 160.78,502.6 165.66,505.98 170.54,504.28 175.42,503.3 180.3,493.58 185.18,486.3 190.06,476.98 194.94,471 199.82,458.28 204.7,449.5 209.58,445.44 214.46,438.7 219.34,430.92 224.22,421.98 229.1,421.64 233.98,415.32 238.86,404.16 243.74,393.84 248.62,389.9 253.5,379.88 258.38,367.64 263.26,355.92 268.14,338.86 273.02,323.28 277.9,305.48 282.78,294.84 287.66,290.76 292.54,286.62 297.42,280.36 302.3,272.64 307.18,259.52 312.06,244.76 316.94,236.4 321.82,229.22 326.7,218.4 331.58,209.06 336.46,202.64 341.34,193.22 346.22,182.2 351.1,173.22 355.98,166.04 360.86,156.34 365.74,149.18 370.62,136.8 375.5,129.22 380.38,121.04 385.26,113.6 390.14,106.4 395.02,111.94 399.9,118.38 404.78,123.24 409.66,128.44 414.54,141.56 419.42,141.76 424.3,148.5 429.18,156.28 434.06,169.48 438.94,173.84 443.82,180.18 448.7,189.94 453.58,197.24 458.46,194.2 463.34,191.28 468.22,195.38 473.1,178.14 477.98,166.84 482.86,165.82 487.74,160.12 492.62,149.98 497.5,160.92 502.38,159.8 507.26,163.36 512.14,174.32 517.02,179.82 521.9,171.12 526.78,174.34 531.66,163.74 536.54,145.6 541.42,130.88 546.3,114.76 551.18,93.24 556.06,74.24 560.94,61.08 565.82,60.88 570.7,70.5 575.58,86.5 580.46,103.24 585.34,119.28 590.22,120.44 595.1,119.44 599.98,124.94 604.86,125.26 609.74,125.26 614.62,126.84 619.5,133.68 624.38,127.4 629.26,120.56 634.14,117.54 639.02,117.74 643.9,124.88 648.78,127.5 653.66,149.2 658.54,184.52 663.42,215.58 668.3,225.44 673.18,245.68 678.06,244.46 682.94,233.12 687.82,216.7 692.7,209.76 697.58,204 702.46,212.74 707.34,215.38 712.22,217.48 717.1,221.6 721.98,216.22 726.86,199.9 731.74,185.2 736.62,179.36 741.5,172.56 746.38,164.42 751.26,160.66 756.14,150.16 761.02,144.3 765.9,135.22 770.78,133.88 775.66,130.14 780.54,136.7 785.42,132.5 790.3,127.84 795.18,126.24 800.06,139.66 804.94,146.7 809.82,163.96 814.7,176.82 819.58,189.34 824.46,205.4 829.34,237.16 834.22,278.72 839.1,328.42 843.98,362.56 848.86,382.48 853.74,386.72 858.62,375.46 863.5,359.44 868.38,350.7 873.26,340.26 878.14,317.92 883.02,294.26 887.9,275.36 892.78,257.94 897.66,240.52 902.54,229.78 907.42,223.86 912.3,211.46 917.18,201.4 922.06,185.8 926.94,172.94 931.82,160.18 936.7,158.64 941.58,162.14 946.46,171.16 951.34,190.36 956.22,203.3 961.1,214.8 965.98,223.88 970.86,227.94 975.74,223.02 980.62,223.38 985.5,213.36 990.38,204.82 995.26,194.42 1000.14,191 1005.02,189.06 1009.9,187.24 1014.78,183.94 1019.66,177.48 1024.54,160.44 1029.42,151.02 1034.3,145.2 1039.18,138.62 1044.06,142.1 1048.94,151.2 1053.82,151.2 1058.7,151.2 1063.58,151.2 1068.46,151.2 1073.34,151.2 1078.22,151.2 1083.1,151.2 1087.98,151.2 1092.86,151.2 1097.74,151.2 1102.62,151.2 1107.5,151.2 1112.38,151.2 1117.26,151.2 1122.14,151.2 1127.02,151.2 1131.9,151.2 1136.78,151.2 1141.66,151.2 1146.54,151.2 1151.42,151.2 1156.3,151.2 1161.18,151.2 1166.06,151.2 1170.94,151.2 1175.82,151.2 1180.7,151.2 1185.58,151.2 1190.46,151.2 1195.34,151.2 1200.22,151.2 1205.1,151.2 1209.98,151.2 1214.86,151.2 1219.74,151.2 1224.62,151.2" fill="none" stroke="#a8466e" stroke-width="1.1" stroke-linejoin="round"/>
<polyline points="-0.26,517 4.62,495.3 9.5,513.3 14.38,488.4 19.26,486.3 24.14,494 29.02,498.3 33.9,492.3 38.78,490.8 43.66,503.3 48.54,491.7 53.42,492 58.3,500.2 63.18,492.9 68.06,487 72.94,495.1 77.82,492.9 82.7,477.7 87.58,515.1 92.46,488.6 97.34,485 102.22,473.4 107.1,487.8 111.98,484.2 116.86,502.1 121.74,482.5 126.62,495.2 131.5,494.3 136.38,515.3 141.26,493.2 146.14,499.1 151.02,508.4 155.9,517.7 160.78,494.6 165.66,510.1 170.54,490.6 175.42,503.5 180.3,469.1 185.18,458.2 190.06,463.5 194.94,460.7 199.82,439.9 204.7,425.2 209.58,437.9 214.46,429.8 219.34,421.8 224.22,395.2 229.1,423.5 233.98,406.3 238.86,374 243.74,370.2 248.62,375.5 253.5,373.4 258.38,345.1 263.26,315.4 268.14,284.9 273.02,297.6 277.9,284.4 282.78,291.9 287.66,295 292.54,264.2 297.42,266.3 302.3,245.8 307.18,226.3 312.06,221.2 316.94,222.4 321.82,230.4 326.7,191.7 331.58,179.6 336.46,189.1 341.34,175.3 346.22,175.3 351.1,146.8 355.98,143.7 360.86,140.6 365.74,139.5 370.62,113.4 375.5,108.9 380.38,102.8 385.26,103.4 390.14,103.5 395.02,141.1 399.9,141.1 404.78,127.1 409.66,129.4 414.54,169.1 419.42,142.1 424.3,174.8 429.18,166 434.06,195.4 438.94,190.9 443.82,173.8 448.7,223.6 453.58,202.5 458.46,180.2 463.34,176.3 468.22,194.3 473.1,137.4 477.98,146 482.86,175.1 487.74,147.8 492.62,143.6 497.5,192.1 502.38,140.4 507.26,192.9 512.14,202.6 517.02,171.1 521.9,148.6 526.78,156.5 531.66,139.9 536.54,111.9 541.42,97.5 546.3,68 551.18,48.9 556.06,44.9 560.94,46.1 565.82,96.5 570.7,116.1 575.58,128.9 580.46,128.6 585.34,126.3 590.22,102.3 595.1,111.1 599.98,156.4 604.86,130.2 609.74,126.3 614.62,110.2 619.5,145.3 624.38,125 629.26,96 634.14,111.2 639.02,111.2 643.9,181 648.78,138.1 653.66,204.5 658.54,287.8 663.42,266.5 668.3,230.3 673.18,239.3 678.06,198.4 682.94,231.1 687.82,184.4 692.7,195.6 697.58,210.5 702.46,242.1 707.34,244.3 712.22,194.9 717.1,216.2 721.98,183.6 726.86,160.5 731.74,170.8 736.62,165.7 741.5,182.2 746.38,142.9 751.26,141.7 756.14,118.3 761.02,136.4 765.9,136.8 770.78,136.2 775.66,123 780.54,151.1 785.42,115.4 790.3,113.5 795.18,128.2 800.06,190.1 804.94,186.3 809.82,201.7 814.7,177.8 819.58,190.8 824.46,270.4 829.34,345.1 834.22,409.5 839.1,426.3 843.98,361.5 848.86,370 853.74,366.3 858.62,353.2 863.5,346.2 868.38,317.8 873.26,317.8 878.14,254.6 883.02,234.9 887.9,251.7 892.78,230.7 897.66,230.7 902.54,200.9 907.42,205.3 912.3,189.7 917.18,180.4 922.06,152.7 926.94,136.6 931.82,141.5 936.7,182 941.58,197.9 946.46,197.8 951.34,232.6 956.22,206.2 961.1,239.5 965.98,243.3 970.86,218.1 975.74,208 980.62,208 985.5,189.4 990.38,200.6 995.26,166.1 1000.14,190.9 1005.02,198.3 1009.9,180.3 1014.78,184.1 1019.66,133.8 1024.54,105.7 1029.42,151.2 1034.3,151.2 1039.18,151.2 1044.06,151.2 1048.94,151.2 1053.82,151.2 1058.7,151.2 1063.58,151.2 1068.46,151.2 1073.34,151.2 1078.22,151.2 1083.1,151.2 1087.98,151.2 1092.86,151.2 1097.74,151.2 1102.62,151.2 1107.5,151.2 1112.38,151.2 1117.26,151.2 1122.14,151.2 1127.02,151.2 1131.9,151.2 1136.78,151.2 1141.66,151.2 1146.54,151.2 1151.42,151.2 1156.3,151.2 1161.18,151.2 1166.06,151.2 1170.94,151.2 1175.82,151.2 1180.7,151.2 1185.58,151.2 1190.46,151.2 1195.34,151.2 1200.22,151.2 1205.1,151.2 1209.98,151.2 1214.86,151.2 1219.74,151.2 1224.62,151.2" fill="none" stroke="#000" stroke-width="1.3" stroke-linejoin="round"/>
<g fill="#000">
<circle cx="-0.26" cy="517" r="2.6"/>
<circle cx="4.62" cy="495.3" r="2.6"/>
<circle cx="9.5" cy="513.3" r="2.6"/>
<circle cx="14.38" cy="488.4" r="2.6"/>
<circle cx="19.26" cy="486.3" r="2.6"/>
<circle cx="24.14" cy="494" r="2.6"/>
<circle cx="29.02" cy="498.3" r="2.6"/>
<circle cx="33.9" cy="492.3" r="2.6"/>
<circle cx="38.78" cy="490.8" r="2.6"/>
<circle cx="43.66" cy="503.3" r="2.6"/>
<circle cx="48.54" cy="491.7" r="2.6"/>
<circle cx="53.42" cy="492" r="2.6"/>
<circle cx="58.3" cy="500.2" r="2.6"/>
<circle cx="63.18" cy="492.9" r="2.6"/>
<circle cx="68.06" cy="487" r="2.6"/>
<circle cx="72.94" cy="495.1" r="2.6"/>
<circle cx="77.82" cy="492.9" r="2.6"/>
<circle cx="82.7" cy="477.7" r="2.6"/>
<circle cx="87.58" cy="515.1" r="2.6"/>
<circle cx="92.46" cy="488.6" r="2.6"/>
<circle cx="97.34" cy="485" r="2.6"/>
<circle cx="102.22" cy="473.4" r="2.6"/>
<circle cx="107.1" cy="487.8" r="2.6"/>
<circle cx="111.98" cy="484.2" r="2.6"/>
<circle cx="116.86" cy="502.1" r="2.6"/>
<circle cx="121.74" cy="482.5" r="2.6"/>
<circle cx="126.62" cy="495.2" r="2.6"/>
<circle cx="131.5" cy="494.3" r="2.6"/>
<circle cx="136.38" cy="515.3" r="2.6"/>
<circle cx="141.26" cy="493.2" r="2.6"/>
<circle cx="146.14" cy="499.1" r="2.6"/>
<circle cx="151.02" cy="508.4" r="2.6"/>
<circle cx="155.9" cy="517.7" r="2.6"/>
<circle cx="160.78" cy="494.6" r="2.6"/>
<circle cx="165.66" cy="510.1" r="2.6"/>
<circle cx="170.54" cy="490.6" r="2.6"/>
<circle cx="175.42" cy="503.5" r="2.6"/>
<circle cx="180.3" cy="469.1" r="2.6"/>
<circle cx="185.18" cy="458.2" r="2.6"/>
<circle cx="190.06" cy="463.5" r="2.6"/>
<circle cx="194.94" cy="460.7" r="2.6"/>
<circle cx="199.82" cy="439.9" r="2.6"/>
<circle cx="204.7" cy="425.2" r="2.6"/>
<circle cx="209.58" cy="437.9" r="2.6"/>
<circle cx="214.46" cy="429.8" r="2.6"/>
<circle cx="219.34" cy="421.8" r="2.6"/>
<circle cx="224.22" cy="395.2" r="2.6"/>
<circle cx="229.1" cy="423.5" r="2.6"/>
<circle cx="233.98" cy="406.3" r="2.6"/>
<circle cx="238.86" cy="374" r="2.6"/>
<circle cx="243.74" cy="370.2" r="2.6"/>
<circle cx="248.62" cy="375.5" r="2.6"/>
<circle cx="253.5" cy="373.4" r="2.6"/>
<circle cx="258.38" cy="345.1" r="2.6"/>
<circle cx="263.26" cy="315.4" r="2.6"/>
<circle cx="268.14" cy="284.9" r="2.6"/>
<circle cx="273.02" cy="297.6" r="2.6"/>
<circle cx="277.9" cy="284.4" r="2.6"/>
<circle cx="282.78" cy="291.9" r="2.6"/>
<circle cx="287.66" cy="295" r="2.6"/>
<circle cx="292.54" cy="264.2" r="2.6"/>
<circle cx="297.42" cy="266.3" r="2.6"/>
<circle cx="302.3" cy="245.8" r="2.6"/>
<circle cx="307.18" cy="226.3" r="2.6"/>
<circle cx="312.06" cy="221.2" r="2.6"/>
<circle cx="316.94" cy="222.4" r="2.6"/>
<circle cx="321.82" cy="230.4" r="2.6"/>
<circle cx="326.7" cy="191.7" r="2.6"/>
<circle cx="331.58" cy="179.6" r="2.6"/>
<circle cx="336.46" cy="189.1" r="2.6"/>
<circle cx="341.34" cy="175.3" r="2.6"/>
<circle cx="346.22" cy="175.3" r="2.6"/>
<circle cx="351.1" cy="146.8" r="2.6"/>
<circle cx="355.98" cy="143.7" r="2.6"/>
<circle cx="360.86" cy="140.6" r="2.6"/>
<circle cx="365.74" cy="139.5" r="2.6"/>
<circle cx="370.62" cy="113.4" r="2.6"/>
<circle cx="375.5" cy="108.9" r="2.6"/>
<circle cx="380.38" cy="102.8" r="2.6"/>
<circle cx="385.26" cy="103.4" r="2.6"/>
<circle cx="390.14" cy="103.5" r="2.6"/>
<circle cx="395.02" cy="141.1" r="2.6"/>
<circle cx="399.9" cy="141.1" r="2.6"/>
<circle cx="404.78" cy="127.1" r="2.6"/>
<circle cx="409.66" cy="129.4" r="2.6"/>
<circle cx="414.54" cy="169.1" r="2.6"/>
<circle cx="419.42" cy="142.1" r="2.6"/>
<circle cx="424.3" cy="174.8" r="2.6"/>
<circle cx="429.18" cy="166" r="2.6"/>
<circle cx="434.06" cy="195.4" r="2.6"/>
<circle cx="438.94" cy="190.9" r="2.6"/>
<circle cx="443.82" cy="173.8" r="2.6"/>
<circle cx="448.7" cy="223.6" r="2.6"/>
<circle cx="453.58" cy="202.5" r="2.6"/>
<circle cx="458.46" cy="180.2" r="2.6"/>
<circle cx="463.34" cy="176.3" r="2.6"/>
<circle cx="468.22" cy="194.3" r="2.6"/>
<circle cx="473.1" cy="137.4" r="2.6"/>
<circle cx="477.98" cy="146" r="2.6"/>
<circle cx="482.86" cy="175.1" r="2.6"/>
<circle cx="487.74" cy="147.8" r="2.6"/>
<circle cx="492.62" cy="143.6" r="2.6"/>
<circle cx="497.5" cy="192.1" r="2.6"/>
<circle cx="502.38" cy="140.4" r="2.6"/>
<circle cx="507.26" cy="192.9" r="2.6"/>
<circle cx="512.14" cy="202.6" r="2.6"/>
<circle cx="517.02" cy="171.1" r="2.6"/>
<circle cx="521.9" cy="148.6" r="2.6"/>
<circle cx="526.78" cy="156.5" r="2.6"/>
<circle cx="531.66" cy="139.9" r="2.6"/>
<circle cx="536.54" cy="111.9" r="2.6"/>
<circle cx="541.42" cy="97.5" r="2.6"/>
<circle cx="546.3" cy="68" r="2.6"/>
<circle cx="551.18" cy="48.9" r="2.6"/>
<circle cx="556.06" cy="44.9" r="2.6"/>
<circle cx="560.94" cy="46.1" r="2.6"/>
<circle cx="565.82" cy="96.5" r="2.6"/>
<circle cx="570.7" cy="116.1" r="2.6"/>
<circle cx="575.58" cy="128.9" r="2.6"/>
<circle cx="580.46" cy="128.6" r="2.6"/>
<circle cx="585.34" cy="126.3" r="2.6"/>
<circle cx="590.22" cy="102.3" r="2.6"/>
<circle cx="595.1" cy="111.1" r="2.6"/>
<circle cx="599.98" cy="156.4" r="2.6"/>
<circle cx="604.86" cy="130.2" r="2.6"/>
<circle cx="609.74" cy="126.3" r="2.6"/>
<circle cx="614.62" cy="110.2" r="2.6"/>
<circle cx="619.5" cy="145.3" r="2.6"/>
<circle cx="624.38" cy="125" r="2.6"/>
<circle cx="629.26" cy="96" r="2.6"/>
<circle cx="634.14" cy="111.2" r="2.6"/>
<circle cx="639.02" cy="111.2" r="2.6"/>
<circle cx="643.9" cy="181" r="2.6"/>
<circle cx="648.78" cy="138.1" r="2.6"/>
<circle cx="653.66" cy="204.5" r="2.6"/>
<circle cx="658.54" cy="287.8" r="2.6"/>
<circle cx="663.42" cy="266.5" r="2.6"/>
<circle cx="668.3" cy="230.3" r="2.6"/>
<circle cx="673.18" cy="239.3" r="2.6"/>
<circle cx="678.06" cy="198.4" r="2.6"/>
<circle cx="682.94" cy="231.1" r="2.6"/>
<circle cx="687.82" cy="184.4" r="2.6"/>
<circle cx="692.7" cy="195.6" r="2.6"/>
<circle cx="697.58" cy="210.5" r="2.6"/>
<circle cx="702.46" cy="242.1" r="2.6"/>
<circle cx="707.34" cy="244.3" r="2.6"/>
<circle cx="712.22" cy="194.9" r="2.6"/>
<circle cx="717.1" cy="216.2" r="2.6"/>
<circle cx="721.98" cy="183.6" r="2.6"/>
<circle cx="726.86" cy="160.5" r="2.6"/>
<circle cx="731.74" cy="170.8" r="2.6"/>
<circle cx="736.62" cy="165.7" r="2.6"/>
<circle cx="741.5" cy="182.2" r="2.6"/>
<circle cx="746.38" cy="142.9" r="2.6"/>
<circle cx="751.26" cy="141.7" r="2.6"/>
<circle cx="756.14" cy="118.3" r="2.6"/>
<circle cx="761.02" cy="136.4" r="2.6"/>
<circle cx="765.9" cy="136.8" r="2.6"/>
<circle cx="770.78" cy="136.2" r="2.6"/>
<circle cx="775.66" cy="123" r="2.6"/>
<circle cx="780.54" cy="151.1" r="2.6"/>
<circle cx="785.42" cy="115.4" r="2.6"/>
<circle cx="790.3" cy="113.5" r="2.6"/>
<circle cx="795.18" cy="128.2" r="2.6"/>
<circle cx="800.06" cy="190.1" r="2.6"/>
<circle cx="804.94" cy="186.3" r="2.6"/>
<circle cx="809.82" cy="201.7" r="2.6"/>
<circle cx="814.7" cy="177.8" r="2.6"/>
<circle cx="819.58" cy="190.8" r="2.6"/>
<circle cx="824.46" cy="270.4" r="2.6"/>
<circle cx="829.34" cy="345.1" r="2.6"/>
<circle cx="834.22" cy="409.5" r="2.6"/>
<circle cx="839.1" cy="426.3" r="2.6"/>
<circle cx="843.98" cy="361.5" r="2.6"/>
<circle cx="848.86" cy="370" r="2.6"/>
<circle cx="853.74" cy="366.3" r="2.6"/>
<circle cx="858.62" cy="353.2" r="2.6"/>
<circle cx="863.5" cy="346.2" r="2.6"/>
<circle cx="868.38" cy="317.8" r="2.6"/>
<circle cx="873.26" cy="317.8" r="2.6"/>
<circle cx="878.14" cy="254.6" r="2.6"/>
<circle cx="883.02" cy="234.9" r="2.6"/>
<circle cx="887.9" cy="251.7" r="2.6"/>
<circle cx="892.78" cy="230.7" r="2.6"/>
<circle cx="897.66" cy="230.7" r="2.6"/>
<circle cx="902.54" cy="200.9" r="2.6"/>
<circle cx="907.42" cy="205.3" r="2.6"/>
<circle cx="912.3" cy="189.7" r="2.6"/>
<circle cx="917.18" cy="180.4" r="2.6"/>
<circle cx="922.06" cy="152.7" r="2.6"/>
<circle cx="926.94" cy="136.6" r="2.6"/>
<circle cx="931.82" cy="141.5" r="2.6"/>
<circle cx="936.7" cy="182" r="2.6"/>
<circle cx="941.58" cy="197.9" r="2.6"/>
<circle cx="946.46" cy="197.8" r="2.6"/>
<circle cx="951.34" cy="232.6" r="2.6"/>
<circle cx="956.22" cy="206.2" r="2.6"/>
<circle cx="961.1" cy="239.5" r="2.6"/>
<circle cx="965.98" cy="243.3" r="2.6"/>
<circle cx="970.86" cy="218.1" r="2.6"/>
<circle cx="975.74" cy="208" r="2.6"/>
<circle cx="980.62" cy="208" r="2.6"/>
<circle cx="985.5" cy="189.4" r="2.6"/>
<circle cx="990.38" cy="200.6" r="2.6"/>
<circle cx="995.26" cy="166.1" r="2.6"/>
<circle cx="1000.14" cy="190.9" r="2.6"/>
<circle cx="1005.02" cy="198.3" r="2.6"/>
<circle cx="1009.9" cy="180.3" r="2.6"/>
<circle cx="1014.78" cy="184.1" r="2.6"/>
<circle cx="1019.66" cy="133.8" r="2.6"/>
<circle cx="1024.54" cy="105.7" r="2.6"/>
<circle cx="1029.42" cy="151.2" r="2.6"/>
<circle cx="1034.3" cy="151.2" r="2.6"/>
<circle cx="1039.18" cy="151.2" r="2.6"/>
<circle cx="1044.06" cy="151.2" r="2.6"/>
<circle cx="1048.94" cy="151.2" r="2.6"/>
<circle cx="1053.82" cy="151.2" r="2.6"/>
<circle cx="1058.7" cy="151.2" r="2.6"/>
<circle cx="1063.58" cy="151.2" r="2.6"/>
<circle cx="1068.46" cy="151.2" r="2.6"/>
<circle cx="1073.34" cy="151.2" r="2.6"/>
<circle cx="1078.22" cy="151.2" r="2.6"/>
<circle cx="1083.1" cy="151.2" r="2.6"/>
<circle cx="1087.98" cy="151.2" r="2.6"/>
<circle cx="1092.86" cy="151.2" r="2.6"/>
<circle cx="1097.74" cy="151.2" r="2.6"/>
<circle cx="1102.62" cy="151.2" r="2.6"/>
<circle cx="1107.5" cy="151.2" r="2.6"/>
<circle cx="1112.38" cy="151.2" r="2.6"/>
<circle cx="1117.26" cy="151.2" r="2.6"/>
<circle cx="1122.14" cy="151.2" r="2.6"/>
<circle cx="1127.02" cy="151.2" r="2.6"/>
<circle cx="1131.9" cy="151.2" r="2.6"/>
<circle cx="1136.78" cy="151.2" r="2.6"/>
<circle cx="1141.66" cy="151.2" r="2.6"/>
<circle cx="1146.54" cy="151.2" r="2.6"/>
<circle cx="1151.42" cy="151.2" r="2.6"/>
<circle cx="1156.3" cy="151.2" r="2.6"/>
<circle cx="1161.18" cy="151.2" r="2.6"/>
<circle cx="1166.06" cy="151.2" r="2.6"/>
<circle cx="1170.94" cy="151.2" r="2.6"/>
<circle cx="1175.82" cy="151.2" r="2.6"/>
<circle cx="1180.7" cy="151.2" r="2.6"/>
<circle cx="1185.58" cy="151.2" r="2.6"/>
<circle cx="1190.46" cy="151.2" r="2.6"/>
<circle cx="1195.34" cy="151.2" r="2.6"/>
<circle cx="1200.22" cy="151.2" r="2.6"/>
<circle cx="1205.1" cy="151.2" r="2.6"/>
<circle cx="1209.98" cy="151.2" r="2.6"/>
<circle cx="1214.86" cy="151.2" r="2.6"/>
<circle cx="1219.74" cy="151.2" r="2.6"/>
<circle cx="1224.62" cy="151.2" r="2.6"/>
</g>
</g>
<g font-family="'Liberation Sans', sans-serif">
<text x="9.5" y="22.7" font-size="15.4" fill="#131722" stroke="#131722" stroke-width="0.2" textLength="57.8" lengthAdjust="spacingAndGlyphs">FTSEMIB</text>
<text x="71.5" y="22" font-size="13" fill="#8a8a8a">·</text>
<text x="80.9" y="22.7" font-size="15.2" fill="#131722" stroke="#131722" stroke-width="0.2" textLength="15.9" lengthAdjust="spacingAndGlyphs">1D</text>
<text x="106.6" y="22.6" font-size="11.6" fill="#131722" textLength="32" lengthAdjust="spacingAndGlyphs">34211</text>
<text x="146" y="22.6" font-size="11.6" fill="#131722">0</text>
<text x="157.5" y="22.6" font-size="11.6" fill="#131722" textLength="41" lengthAdjust="spacingAndGlyphs">(0.00%)</text>
<text x="9" y="45.1" font-size="12.3" fill="#131722" textLength="78.8" lengthAdjust="spacingAndGlyphs">MA 14 close 0</text>
<text x="96.5" y="45.1" font-size="12.3" fill="#3d8ccc" textLength="65.1" lengthAdjust="spacingAndGlyphs">34210.5195</text>
<text x="9" y="69.1" font-size="12.3" fill="#131722" textLength="78.8" lengthAdjust="spacingAndGlyphs">MA 55 close 0</text>
<text x="96.5" y="69.1" font-size="12.3" fill="#d05a48" textLength="65.1" lengthAdjust="spacingAndGlyphs">34210.5195</text>
<text x="9" y="93.1" font-size="12.3" fill="#131722" textLength="71.5" lengthAdjust="spacingAndGlyphs">MA 5 close 0</text>
<text x="89.5" y="93.1" font-size="12.3" fill="#c2407a" textLength="65.1" lengthAdjust="spacingAndGlyphs">34210.5195</text>
<text x="9" y="117.1" font-size="12.3" fill="#131722" textLength="85.8" lengthAdjust="spacingAndGlyphs">MA 150 close 0</text>
<text x="103.4" y="117.1" font-size="12.3" fill="#131722" textLength="65.1" lengthAdjust="spacingAndGlyphs">34210.5195</text>
<text x="9" y="141.1" font-size="12.3" fill="#131722" textLength="85.8" lengthAdjust="spacingAndGlyphs">MA 220 close 0</text>
<text x="103.4" y="141.1" font-size="12.3" fill="#a535d8" textLength="65.1" lengthAdjust="spacingAndGlyphs">34179.5705</text>
<rect x="10" y="151.5" width="27" height="20" rx="3" fill="none" stroke="#d6d9e0" stroke-width="1"/>
<polyline points="19.8,164.3 23.5,160.6 27.2,164.3" fill="none" stroke="#131722" stroke-width="1.4"/>
</g>
<line x1="1224.5" y1="0" x2="1224.5" y2="761" stroke="#2a2e39" stroke-width="1"/>
<g font-size="14.5" fill="#131722" stroke="#131722" stroke-width="0.3">
<line x1="1225" y1="27.9" x2="1229.5" y2="27.9" stroke="#2a2e39" stroke-width="1"/>
<text x="1234.8" y="33.8" textLength="35.6" lengthAdjust="spacingAndGlyphs">35600</text>
<line x1="1225" y1="63.31" x2="1229.5" y2="63.31" stroke="#2a2e39" stroke-width="1"/>
<text x="1234.8" y="69.21" textLength="35.6" lengthAdjust="spacingAndGlyphs">35200</text>
<line x1="1225" y1="98.72" x2="1229.5" y2="98.72" stroke="#2a2e39" stroke-width="1"/>
<text x="1234.8" y="104.62" textLength="35.6" lengthAdjust="spacingAndGlyphs">34800</text>
<line x1="1225" y1="134.14" x2="1229.5" y2="134.14" stroke="#2a2e39" stroke-width="1"/>
<text x="1234.8" y="140.04" textLength="35.6" lengthAdjust="spacingAndGlyphs">34400</text>
<line x1="1225" y1="169.55" x2="1229.5" y2="169.55" stroke="#2a2e39" stroke-width="1"/>
<text x="1234.8" y="175.45" textLength="35.6" lengthAdjust="spacingAndGlyphs">34000</text>
<line x1="1225" y1="204.96" x2="1229.5" y2="204.96" stroke="#2a2e39" stroke-width="1"/>
<text x="1234.8" y="210.86" textLength="35.6" lengthAdjust="spacingAndGlyphs">33600</text>
<line x1="1225" y1="240.37" x2="1229.5" y2="240.37" stroke="#2a2e39" stroke-width="1"/>
<text x="1234.8" y="246.27" textLength="35.6" lengthAdjust="spacingAndGlyphs">33200</text>
<line x1="1225" y1="275.78" x2="1229.5" y2="275.78" stroke="#2a2e39" stroke-width="1"/>
<text x="1234.8" y="281.68" textLength="35.6" lengthAdjust="spacingAndGlyphs">32800</text>
<line x1="1225" y1="311.2" x2="1229.5" y2="311.2" stroke="#2a2e39" stroke-width="1"/>
<text x="1234.8" y="317.1" textLength="35.6" lengthAdjust="spacingAndGlyphs">32400</text>
<line x1="1225" y1="346.61" x2="1229.5" y2="346.61" stroke="#2a2e39" stroke-width="1"/>
<text x="1234.8" y="352.51" textLength="35.6" lengthAdjust="spacingAndGlyphs">32000</text>
<line x1="1225" y1="382.02" x2="1229.5" y2="382.02" stroke="#2a2e39" stroke-width="1"/>
<text x="1234.8" y="387.92" textLength="35.6" lengthAdjust="spacingAndGlyphs">31600</text>
<line x1="1225" y1="417.43" x2="1229.5" y2="417.43" stroke="#2a2e39" stroke-width="1"/>
<text x="1234.8" y="423.33" textLength="35.6" lengthAdjust="spacingAndGlyphs">31200</text>
<line x1="1225" y1="452.84" x2="1229.5" y2="452.84" stroke="#2a2e39" stroke-width="1"/>
<text x="1234.8" y="458.74" textLength="35.6" lengthAdjust="spacingAndGlyphs">30800</text>
<line x1="1225" y1="488.26" x2="1229.5" y2="488.26" stroke="#2a2e39" stroke-width="1"/>
<text x="1234.8" y="494.16" textLength="35.6" lengthAdjust="spacingAndGlyphs">30400</text>
<line x1="1225" y1="523.67" x2="1229.5" y2="523.67" stroke="#2a2e39" stroke-width="1"/>
<text x="1234.8" y="529.57" textLength="35.6" lengthAdjust="spacingAndGlyphs">30000</text>
<line x1="1225" y1="559.08" x2="1229.5" y2="559.08" stroke="#2a2e39" stroke-width="1"/>
<text x="1234.8" y="564.98" textLength="35.6" lengthAdjust="spacingAndGlyphs">29600</text>
<line x1="1225" y1="594.49" x2="1229.5" y2="594.49" stroke="#2a2e39" stroke-width="1"/>
<text x="1234.8" y="600.39" textLength="35.6" lengthAdjust="spacingAndGlyphs">29200</text>
<line x1="1225" y1="629.9" x2="1229.5" y2="629.9" stroke="#2a2e39" stroke-width="1"/>
<text x="1234.8" y="635.8" textLength="35.6" lengthAdjust="spacingAndGlyphs">28800</text>
<line x1="1225" y1="665.32" x2="1229.5" y2="665.32" stroke="#2a2e39" stroke-width="1"/>
<text x="1234.8" y="671.22" textLength="35.6" lengthAdjust="spacingAndGlyphs">28400</text>
<line x1="1225" y1="700.73" x2="1229.5" y2="700.73" stroke="#2a2e39" stroke-width="1"/>
<text x="1234.8" y="706.63" textLength="35.6" lengthAdjust="spacingAndGlyphs">28000</text>
</g>
<line x1="0" y1="0.5" x2="1280" y2="0.5" stroke="#555" stroke-width="1"/>
<line x1="0" y1="729.5" x2="1280" y2="729.5" stroke="#2a2e39" stroke-width="1"/>
<line x1="82.5" y1="730" x2="82.5" y2="733" stroke="#2a2e39" stroke-width="1"/>
<text x="82.5" y="751" font-size="14" fill="#131722" text-anchor="middle" font-weight="bold">2024</text>
<line x1="190" y1="730" x2="190" y2="733" stroke="#2a2e39" stroke-width="1"/>
<text x="190" y="750.6" font-size="13.4" fill="#131722" stroke="#131722" stroke-width="0.15" text-anchor="middle">Feb</text>
<line x1="292.5" y1="730" x2="292.5" y2="733" stroke="#2a2e39" stroke-width="1"/>
<text x="292.5" y="750.6" font-size="13.4" fill="#131722" stroke="#131722" stroke-width="0.15" text-anchor="middle">Mar</text>
<line x1="394.5" y1="730" x2="394.5" y2="733" stroke="#2a2e39" stroke-width="1"/>
<text x="394.5" y="750.6" font-size="13.4" fill="#131722" stroke="#131722" stroke-width="0.15" text-anchor="middle">Apr</text>
<line x1="502" y1="730" x2="502" y2="733" stroke="#2a2e39" stroke-width="1"/>
<text x="502" y="750.6" font-size="13.4" fill="#131722" stroke="#131722" stroke-width="0.15" text-anchor="middle">Maggio</text>
<line x1="614.5" y1="730" x2="614.5" y2="733" stroke="#2a2e39" stroke-width="1"/>
<text x="614.5" y="750.6" font-size="13.4" fill="#131722" stroke="#131722" stroke-width="0.15" text-anchor="middle">Giu</text>
<line x1="712" y1="730" x2="712" y2="733" stroke="#2a2e39" stroke-width="1"/>
<text x="712" y="750.6" font-size="13.4" fill="#131722" stroke="#131722" stroke-width="0.15" text-anchor="middle">Lug</text>
<line x1="824.5" y1="730" x2="824.5" y2="733" stroke="#2a2e39" stroke-width="1"/>
<text x="824.5" y="750.6" font-size="13.4" fill="#131722" stroke="#131722" stroke-width="0.15" text-anchor="middle">Ago</text>
<line x1="1034" y1="730" x2="1034" y2="733" stroke="#2a2e39" stroke-width="1"/>
<text x="1034" y="750.6" font-size="13.4" fill="#131722" stroke="#131722" stroke-width="0.15" text-anchor="middle">Ott</text>
<line x1="1146" y1="730" x2="1146" y2="733" stroke="#2a2e39" stroke-width="1"/>
<text x="1146" y="750.6" font-size="13.4" fill="#131722" stroke="#131722" stroke-width="0.15" text-anchor="middle">Nov</text>
<rect x="0" y="730" width="75.5" height="26.5" fill="#f20d0d"/>
<text x="37.75" y="748.3" font-size="14.5" fill="#fff" text-anchor="middle" textLength="57.68" lengthAdjust="spacingAndGlyphs">30 Ott '23</text>
<line x1="19" y1="730" x2="19" y2="734" stroke="#fff" stroke-opacity="0.55" stroke-width="1"/>
<rect x="0" y="730" width="74.6" height="26.5" fill="#2196f3"/>
<text x="37.3" y="748.3" font-size="14.5" fill="#fff" text-anchor="middle" textLength="57.68" lengthAdjust="spacingAndGlyphs">27 Ott '23</text>
<line x1="13.9" y1="730" x2="13.9" y2="734" stroke="#fff" stroke-opacity="0.55" stroke-width="1"/>
<rect x="116.8" y="730" width="78.4" height="26.5" fill="#2196f3"/>
<text x="156" y="748.3" font-size="14.5" fill="#fff" text-anchor="middle" textLength="65.14" lengthAdjust="spacingAndGlyphs">23 Gen '24</text>
<line x1="155.3" y1="730" x2="155.3" y2="734" stroke="#fff" stroke-opacity="0.55" stroke-width="1"/>
<rect x="410.5" y="730" width="75.8" height="26.5" fill="#2196f3"/>
<text x="448.4" y="748.3" font-size="14.5" fill="#fff" text-anchor="middle" textLength="59.93" lengthAdjust="spacingAndGlyphs">16 Apr '24</text>
<line x1="448.5" y1="730" x2="448.5" y2="734" stroke="#fff" stroke-opacity="0.55" stroke-width="1"/>
<rect x="512.5" y="730" width="96.5" height="26.5" fill="#f20d0d"/>
<text x="560.75" y="748.3" font-size="14.5" fill="#fff" text-anchor="middle" textLength="83.76" lengthAdjust="spacingAndGlyphs">17 Maggio '24</text>
<line x1="560.6" y1="730" x2="560.6" y2="734" stroke="#fff" stroke-opacity="0.55" stroke-width="1"/>
<rect x="620.5" y="730" width="75.3" height="26.5" fill="#2196f3"/>
<text x="658.15" y="748.3" font-size="14.5" fill="#fff" text-anchor="middle" textLength="60.67" lengthAdjust="spacingAndGlyphs">14 Giu '24</text>
<line x1="658.2" y1="730" x2="658.2" y2="734" stroke="#fff" stroke-opacity="0.55" stroke-width="1"/>
<rect x="751.8" y="730" width="76" height="26.5" fill="#f20d0d"/>
<text x="789.8" y="748.3" font-size="14.5" fill="#fff" text-anchor="middle" textLength="62.17" lengthAdjust="spacingAndGlyphs">23 Lug '24</text>
<line x1="789.8" y1="730" x2="789.8" y2="734" stroke="#fff" stroke-opacity="0.55" stroke-width="1"/>
<rect x="800.5" y="730" width="77" height="26.5" fill="#2196f3"/>
<text x="839" y="748.3" font-size="14.5" fill="#fff" text-anchor="middle" textLength="62.92" lengthAdjust="spacingAndGlyphs">06 Ago '24</text>
<line x1="838.9" y1="730" x2="838.9" y2="734" stroke="#fff" stroke-opacity="0.55" stroke-width="1"/>
<rect x="928.5" y="730" width="74" height="26.5" fill="#2196f3"/>
<text x="964.3" y="748.3" font-size="14.5" fill="#fff" text-anchor="middle" textLength="58.93" lengthAdjust="spacingAndGlyphs">11 Set '24</text>
<line x1="965.6" y1="730" x2="965.6" y2="734" stroke="#fff" stroke-opacity="0.55" stroke-width="1"/>
<rect x="894.5" y="730" width="73.9" height="26.5" fill="#f20d0d"/>
<text x="931.45" y="748.3" font-size="14.5" fill="#fff" text-anchor="middle" textLength="59.93" lengthAdjust="spacingAndGlyphs">02 Set '24</text>
<line x1="931.5" y1="730" x2="931.5" y2="734" stroke="#fff" stroke-opacity="0.55" stroke-width="1"/>
<rect x="987.3" y="730" width="73.6" height="26.5" fill="#f20d0d"/>
<text x="1024.1" y="748.3" font-size="14.5" fill="#fff" text-anchor="middle" textLength="59.93" lengthAdjust="spacingAndGlyphs">27 Set '24</text>
<line x1="1024" y1="730" x2="1024" y2="734" stroke="#fff" stroke-opacity="0.55" stroke-width="1"/>
<rect x="1069.8" y="730" width="74.6" height="26.5" fill="#2196f3"/>
<text x="1107.1" y="748.3" font-size="14.5" fill="#fff" text-anchor="middle" textLength="57.68" lengthAdjust="spacingAndGlyphs">22 Ott '24</text>
<line x1="1107.2" y1="730" x2="1107.2" y2="734" stroke="#fff" stroke-opacity="0.55" stroke-width="1"/>
<g transform="translate(1252,746)" stroke="#2a2e39" fill="none" stroke-width="1.3">
<circle r="4.6"/>
<line x1="0" y1="-4.6" x2="0" y2="-7" transform="rotate(0)"/>
<line x1="0" y1="-4.6" x2="0" y2="-7" transform="rotate(45)"/>
<line x1="0" y1="-4.6" x2="0" y2="-7" transform="rotate(90)"/>
<line x1="0" y1="-4.6" x2="0" y2="-7" transform="rotate(135)"/>
<line x1="0" y1="-4.6" x2="0" y2="-7" transform="rotate(180)"/>
<line x1="0" y1="-4.6" x2="0" y2="-7" transform="rotate(225)"/>
<line x1="0" y1="-4.6" x2="0" y2="-7" transform="rotate(270)"/>
<line x1="0" y1="-4.6" x2="0" y2="-7" transform="rotate(315)"/>
</g>
<line x1="0" y1="761.5" x2="1280" y2="761.5" stroke="#e0e3eb" stroke-width="1"/>
<g font-size="13.4" fill="#131722">
<text x="16.9" y="785.6" textLength="68.7" lengthAdjust="spacingAndGlyphs">Range data</text>
<polyline points="92.5,779.5 96.3,783.2 100,779.5" fill="none" stroke="#131722" stroke-width="1.2"/>
<text x="1052.75" y="786.2" textLength="93.75" lengthAdjust="spacingAndGlyphs">07:02:51 (UTC)</text>
<line x1="1164" y1="770" x2="1164" y2="791" stroke="#e0e3eb" stroke-width="1"/>
<text x="1181" y="787" font-size="16.5" textLength="12.8" lengthAdjust="spacingAndGlyphs">%</text>
<text x="1208.4" y="786.2" textLength="18.2" lengthAdjust="spacingAndGlyphs">log</text>
<text x="1241" y="786.2" textLength="27.75" lengthAdjust="spacingAndGlyphs">auto</text>
</g>
<defs><filter id="sh" x="-50%" y="-50%" width="200%" height="200%"><feDropShadow dx="0" dy="1.5" stdDeviation="1.8" flood-color="#000" flood-opacity="0.16"/></filter></defs>
<circle cx="1194" cy="684" r="14.5" fill="#fff" filter="url(#sh)"/>
<polyline points="1189.4,679.4 1192.8,682.8 1189.4,686.2" fill="none" stroke="#4a4a4a" stroke-width="1.6"/>
<polyline points="1193.4,677.5 1198.8,682.8 1193.4,688.5" fill="none" stroke="#4a4a4a" stroke-width="1.6"/>
</svg></body></html>
